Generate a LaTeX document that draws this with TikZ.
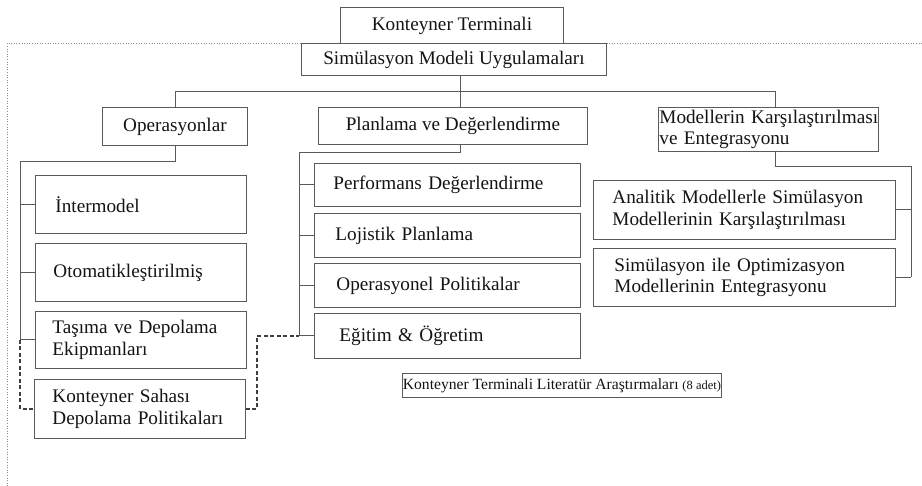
\documentclass[tikz,border=0pt]{standalone}
\usepackage{fontspec}
\setmainfont{Liberation Serif}
\usetikzlibrary{calc}
\definecolor{lc}{HTML}{5A5A5A}
\definecolor{tc}{HTML}{141414}
\begin{document}
\begin{tikzpicture}[x=1pt,y=-1pt,
  bx/.style={draw=lc, line width=0.9pt, fill=white, anchor=north west, inner ysep=0pt, text=tc, font=\fontsize{19.2}{21.5}\selectfont},
  cbox/.style 2 args={bx, minimum width=#1, minimum height=#2, inner xsep=0pt, align=center},
  lbox/.style n args={3}{bx, text width=#1, inner xsep=#2, minimum height=#3, align=left},
  conn/.style={draw=lc, line width=0.9pt},
  dlink/.style={draw=lc!70!black, line width=1.5pt, dash pattern=on 4pt off 2.5pt},
  frame/.style={draw=gray!90, line width=0.6pt, dotted}]
\useasboundingbox (0,0) rectangle (922,486);
% outer dotted frame
\draw[frame] (7,486) -- (7,43) -- (922,43);

% top level
\node[cbox={223}{36}] (kt) at (340,7) {Konteyner Terminali};
\node[cbox={305}{32}] (sim) at (301,43) {Simülasyon Modeli Uygulamaları};

% second level
\node[cbox={145}{38}] (ops) at (102,107) {Operasyonlar};
\node[cbox={269}{37}] (plan) at (318,107) {Planlama ve Değerlendirme};
\node[lbox={218}{1}{44}] (mod) at (658,107) {\mbox{Modellerin Karşılaştırılması}\\ve Entegrasyonu};

% left column
\node[lbox={171}{20}{58}] (inter) at (35,175) {İntermodel};
\node[lbox={175}{18}{58}] (oto) at (35,243) {Otomatikleştirilmiş};
\node[lbox={177}{17}{57}] (tas) at (35,311) {Taşıma ve Depolama\\Ekipmanları};
\node[lbox={175}{18}{59}] (ksdp) at (34,379) {Konteyner Sahası\\Depolama Politikaları};

% middle column
\node[lbox={228}{19}{43}] (perf) at (314,163) {Performans Değerlendirme};
\node[lbox={224}{21}{44}] (loj) at (314,213) {Lojistik Planlama};
\node[lbox={222}{22}{44}] (opol) at (314,263) {Operasyonel Politikalar};
\node[lbox={216}{25}{45}] (egit) at (314,313) {Eğitim \& Öğretim};

% right column
\node[lbox={264}{19}{59}] (anal) at (593,180) {Analitik Modellerle Simülasyon\\Modellerinin Karşılaştırılması};
\node[lbox={260}{21}{58}] (simopt) at (593,248) {Simülasyon ile Optimizasyon\\Modellerinin Entegrasyonu};

% note box
\node[cbox={319}{24}] (lit) at (402,373) {\fontsize{15.6}{18}\selectfont Konteyner Terminali Literatür Araştırmaları {\fontsize{12.5}{14}\selectfont (8 adet)}};

% connector coordinates
\coordinate (hub) at (460,91);
\coordinate (c1) at (175,91);
\coordinate (c3) at (775,91);
\coordinate (opsL) at (20,161);
\coordinate (plT) at (299,152);
\coordinate (mdR) at (911,166);
\coordinate (dR) at (257,338);

% top connectors
\draw[conn] (sim.south -| hub) -- (hub);
\draw[conn] (ops.north -| c1) |- (c3) -- (mod.north -| c3);
\draw[conn] (hub) -- (plan.north -| hub);

% operasyonlar tree
\draw[conn] (ops.south -| c1) |- (opsL) -- (opsL |- tas.west);
\draw[conn] (opsL |- inter.west) -- (inter.west);
\draw[conn] (opsL |- oto.west) -- (oto.west);
\draw[conn] (opsL |- tas.west) -- (tas.west);

% planlama tree
\draw[conn] (plan.south -| hub) |- (plT) -- (plT |- egit.west);
\draw[conn] (plT |- perf.west) -- (perf.west);
\draw[conn] (plT |- loj.west) -- (loj.west);
\draw[conn] (plT |- opol.west) -- (opol.west);
\draw[conn] (plT |- egit.west) -- (egit.west);

% modeller tree
\draw[conn] (mod.south -| c3) |- (mdR) -- (mdR |- simopt.east);
\draw[conn] (mdR |- anal.east) -- (anal.east);
\draw[conn] (mdR |- simopt.east) -- (simopt.east);

% dashed links
\draw[dlink] (opsL |- tas.west) |- (ksdp.west);
\draw[dlink] (ksdp.east) -| (dR |- egit.west) -- (plT |- egit.west);
\end{tikzpicture}
\end{document}
